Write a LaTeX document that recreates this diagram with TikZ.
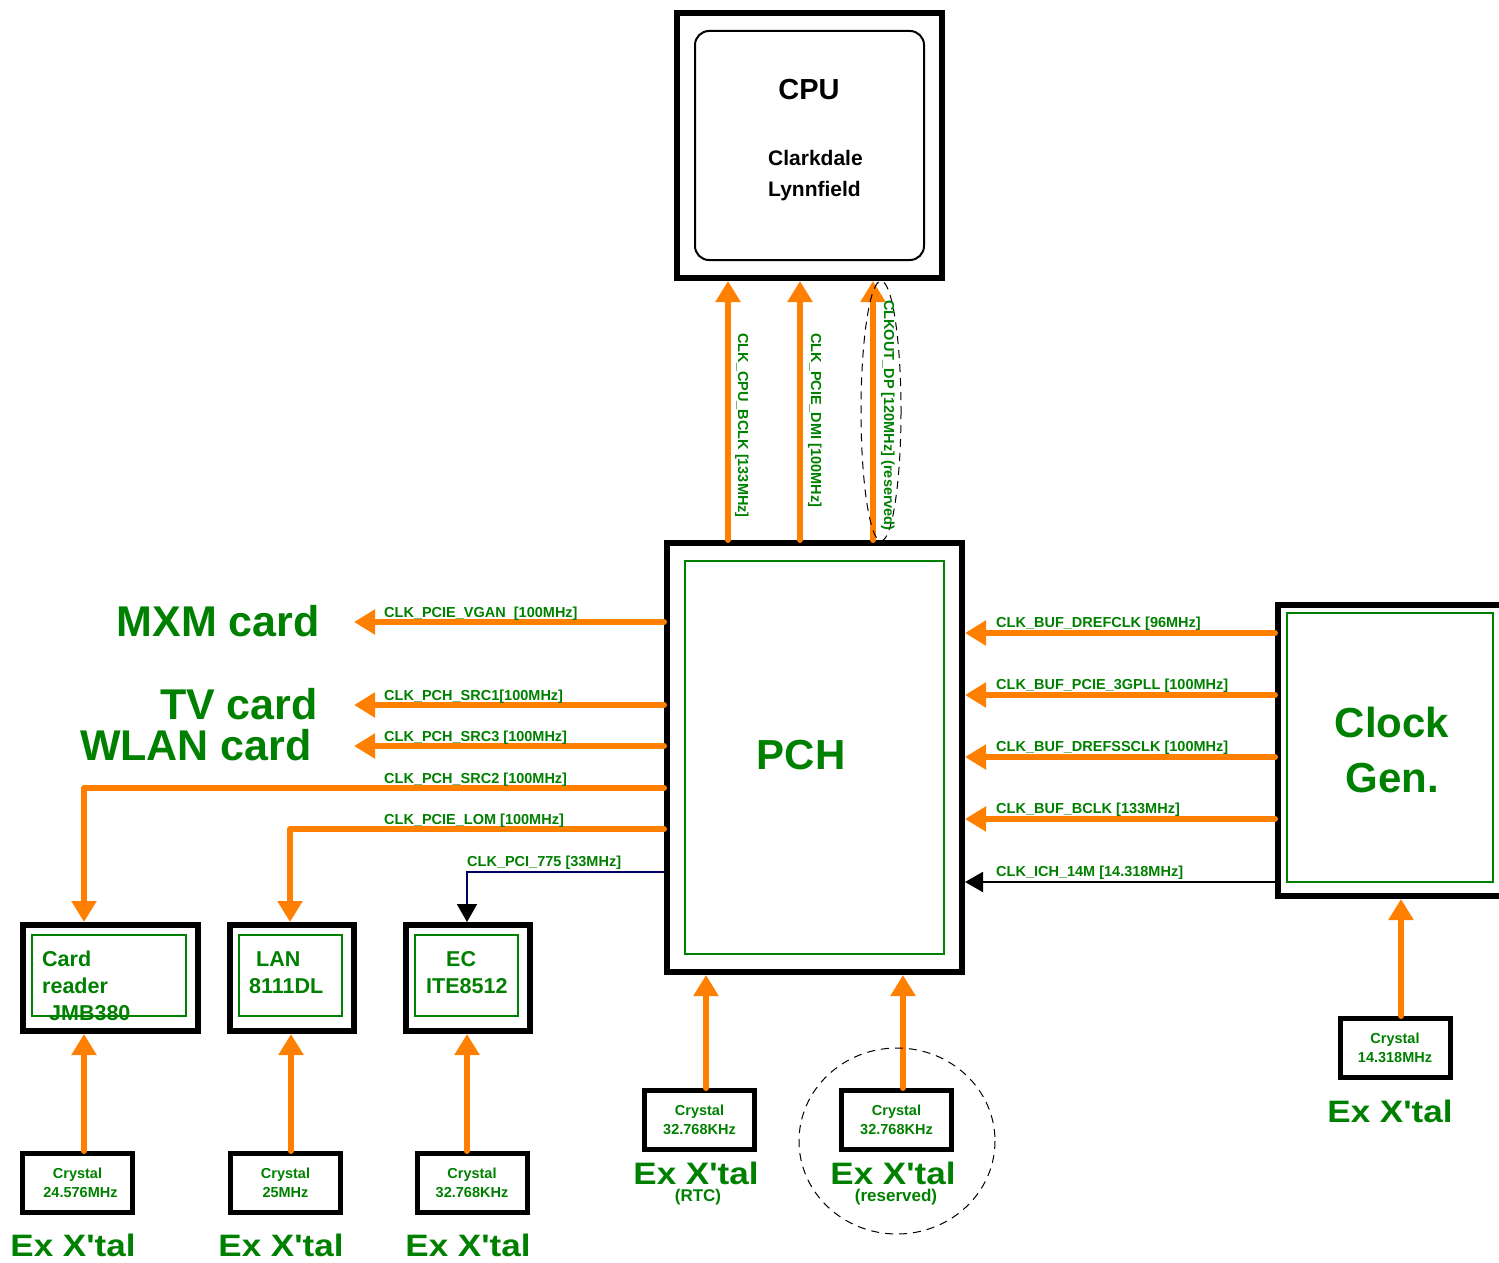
\documentclass[tikz,border=0pt]{standalone}
\usepackage{fontspec}
\setmainfont{Liberation Sans}
\usetikzlibrary{arrows.meta}
\definecolor{gr}{RGB}{0,128,0}
\definecolor{orng}{RGB}{255,128,0}
\definecolor{navyline}{RGB}{0,0,100}
\newcommand\fsz[2]{\fontsize{#1pt}{#2pt}\selectfont\bfseries}
\newcommand\apos{\textquotesingle}
\begin{document}
\begin{tikzpicture}[x=1pt,y=-1pt,
  ob/.style={draw,line width=6pt,inner sep=0pt},
  gb/.style={draw=gr,line width=2pt,inner sep=0pt},
  xb/.style={draw,line width=5pt,inner sep=0pt,minimum width=110pt,minimum height=59pt,text=gr,font=\fsz{14.5}{19},align=center},
  lab/.style={text=gr,font=\fsz{14.5}{17},inner sep=0pt,anchor=base west},
  big/.style={text=gr,font=\fsz{43}{50},inner sep=0pt},
  ex/.style={text=gr,font=\fsz{31}{36},inner sep=0pt,xscale=1.13},
  sm/.style={text=gr,font=\fsz{17}{20},inner sep=0pt},
  boxtxt/.style={text=gr,font=\fsz{21.5}{27},inner sep=0pt,align=left,anchor=north west},
  oarr/.style={draw=orng,line width=6pt,line cap=round,line join=round,-{Triangle[width=24pt,length=21pt]}},
  karr/.style={line width=2pt,-{Triangle[width=20pt,length=18pt,color=black]}},
  dsh/.style={draw,line width=1pt,dash pattern=on 8pt off 6pt}]
\useasboundingbox (0,0) rectangle (1499,1263);
\clip (0,0) rectangle (1499,1263);

% CPU
\node[ob,minimum width=265pt,minimum height=265pt] (cpu) at (809.5,145.5) {};
\node[draw,line width=2pt,rounded corners=14pt,minimum width=229pt,minimum height=229pt] (cpuin) at (809.5,145.5) {};
\node[font=\fsz{29}{34},inner sep=0pt] (cputxt) at (809,90) {CPU};
\node[font=\fsz{21}{31},align=left,anchor=north west,inner sep=0pt] (cpusub) at (768,150) {Clarkdale\\Lynnfield};

% PCH
\node[ob,minimum width=295pt,minimum height=429pt] (pch) at (814.5,757.5) {};
\node[gb,minimum width=259pt,minimum height=393pt] (pchin) at (814.5,757.5) {};
\node[big,font=\fsz{42}{50}] (pchtxt) at (801,755) {PCH};

% Clock Gen
\node[ob,minimum width=242pt,minimum height=291pt] (clk) at (1399,750.5) {};
\node[gb,minimum width=206pt,minimum height=269pt] (clkin) at (1390,747.5) {};
\node[big,font=\fsz{42}{55},align=center] (clktxt) at (1392,750) {Clock\\Gen.};

% device boxes
\node[ob,minimum width=175pt,minimum height=106pt] (card) at (110.5,978) {};
\node[gb,minimum width=154pt,minimum height=81pt] (cardin) at (109,975.5) {};
\node[boxtxt] (cardtxt) at (42,951) {Card\\reader\\\hspace*{7pt}JMB380};
\node[ob,minimum width=124pt,minimum height=106pt] (lan) at (292,978) {};
\node[gb,minimum width=103pt,minimum height=81pt] (lanin) at (290.5,975.5) {};
\node[boxtxt] (lantxt) at (249,951) {\hspace*{7pt}LAN\\8111DL};
\node[ob,minimum width=124pt,minimum height=106pt] (ec) at (468,978) {};
\node[gb,minimum width=103pt,minimum height=81pt] (ecin) at (466.5,975.5) {};
\node[boxtxt] (ectxt) at (426,951) {\hspace*{20pt}EC\\ITE8512};

% crystals
\node[xb] (x1) at (77.5,1183) {Crystal\\\hspace*{6pt}24.576MHz};
\node[xb] (x2) at (285.5,1183) {Crystal\\25MHz};
\node[xb] (x3) at (472,1183) {Crystal\\32.768KHz};
\node[xb] (x4) at (699.5,1120) {Crystal\\32.768KHz};
\node[xb] (x5) at (896.5,1120) {Crystal\\32.768KHz};
\node[xb] (x6) at (1395,1048) {Crystal\\14.318MHz};

\node[ex] (e1) at (73,1245) {Ex X\apos tal};
\node[ex] (e2) at (281,1245) {Ex X\apos tal};
\node[ex] (e3) at (468,1245) {Ex X\apos tal};
\node[ex] (e4) at (696,1173) {Ex X\apos tal};
\node[sm] (e4s) at (698,1197) {(RTC)};
\node[ex] (e5) at (893,1173) {Ex X\apos tal};
\node[sm] (e5s) at (896,1197) {(reserved)};
\node[ex] (e6) at (1390,1111) {Ex X\apos tal};

% destinations left
\node[big,anchor=east] (mxm) at (320,621) {MXM card};
\node[big,anchor=east] (tv) at (318,704) {TV card};
\node[big,anchor=east] (wlan) at (312,745) {WLAN card};

% coordinates
\coordinate (u1) at (728,0);
\coordinate (u2) at (800,0);
\coordinate (u3) at (873,0);
\coordinate (t1) at (354,622);
\coordinate (t2) at (354,705);
\coordinate (t3) at (354,746);
\coordinate (c2) at (84,788);
\coordinate (c3) at (290,829);
\coordinate (c4) at (467,872);
\coordinate (r1) at (0,633);
\coordinate (r2) at (0,695);
\coordinate (r3) at (0,757);
\coordinate (r4) at (0,819);
\coordinate (r5) at (0,882);
\coordinate (a1) at (84,0);
\coordinate (a2) at (291,0);
\coordinate (a3) at (467,0);
\coordinate (a4) at (706,0);
\coordinate (a5) at (903,0);
\coordinate (a6) at (1401,0);

% PCH -> CPU
\draw[oarr] (pch.north -| u1) -- (cpu.south -| u1);
\draw[oarr] (pch.north -| u2) -- (cpu.south -| u2);
\draw[oarr] (pch.north -| u3) -- (cpu.south -| u3);
\draw[dsh] (881,411) ellipse [x radius=20, y radius=130];
\node[lab,rotate=-90] (l1) at (738,333) {CLK\_CPU\_BCLK [133MHz]};
\node[lab,rotate=-90] (l2) at (811,333) {CLK\_PCIE\_DMI [100MHz]};
\node[lab,rotate=-90] (l3) at (884,300) {CLKOUT\_DP [120MHz] (reserved)};

% PCH -> left
\draw[oarr] (pch.west |- t1) -- (t1);
\draw[oarr] (pch.west |- t2) -- (t2);
\draw[oarr] (pch.west |- t3) -- (t3);
\draw[oarr] (pch.west |- c2) -- (c2) -- (card.north -| c2);
\draw[oarr] (pch.west |- c3) -- (c3) -- (lan.north -| c3);
\draw[karr,draw=navyline] (pch.west |- c4) -- (c4) -- (ec.north -| c4);
\node[lab] (ll1) at (384,617) {CLK\_PCIE\_VGAN\ \ [100MHz]};
\node[lab] (ll2) at (384,700) {CLK\_PCH\_SRC1[100MHz]};
\node[lab] (ll3) at (384,741) {CLK\_PCH\_SRC3 [100MHz]};
\node[lab] (ll4) at (384,783) {CLK\_PCH\_SRC2 [100MHz]};
\node[lab] (ll5) at (384,824) {CLK\_PCIE\_LOM [100MHz]};
\node[lab] (ll6) at (467,866) {CLK\_PCI\_775 [33MHz]};

% Clock gen -> PCH
\draw[oarr] (clk.west |- r1) -- (pch.east |- r1);
\draw[oarr] (clk.west |- r2) -- (pch.east |- r2);
\draw[oarr] (clk.west |- r3) -- (pch.east |- r3);
\draw[oarr] (clk.west |- r4) -- (pch.east |- r4);
\draw[karr] (clk.west |- r5) -- (pch.east |- r5);
\node[lab] (lr1) at (996,627) {CLK\_BUF\_DREFCLK [96MHz]};
\node[lab] (lr2) at (996,689) {CLK\_BUF\_PCIE\_3GPLL [100MHz]};
\node[lab] (lr3) at (996,751) {CLK\_BUF\_DREFSSCLK [100MHz]};
\node[lab] (lr4) at (996,813) {CLK\_BUF\_BCLK [133MHz]};
\node[lab] (lr5) at (996,876) {CLK\_ICH\_14M [14.318MHz]};

% crystals -> devices
\draw[oarr] (x1.north -| a1) -- (card.south -| a1);
\draw[oarr] (x2.north -| a2) -- (lan.south -| a2);
\draw[oarr] (x3.north -| a3) -- (ec.south -| a3);
\draw[oarr] (x4.north -| a4) -- (pch.south -| a4);
\draw[oarr] (x5.north -| a5) -- (pch.south -| a5);
\draw[oarr] (x6.north -| a6) -- (clk.south -| a6);
\draw[dsh] (897,1141) ellipse [x radius=98, y radius=93];
\end{tikzpicture}
\end{document}
